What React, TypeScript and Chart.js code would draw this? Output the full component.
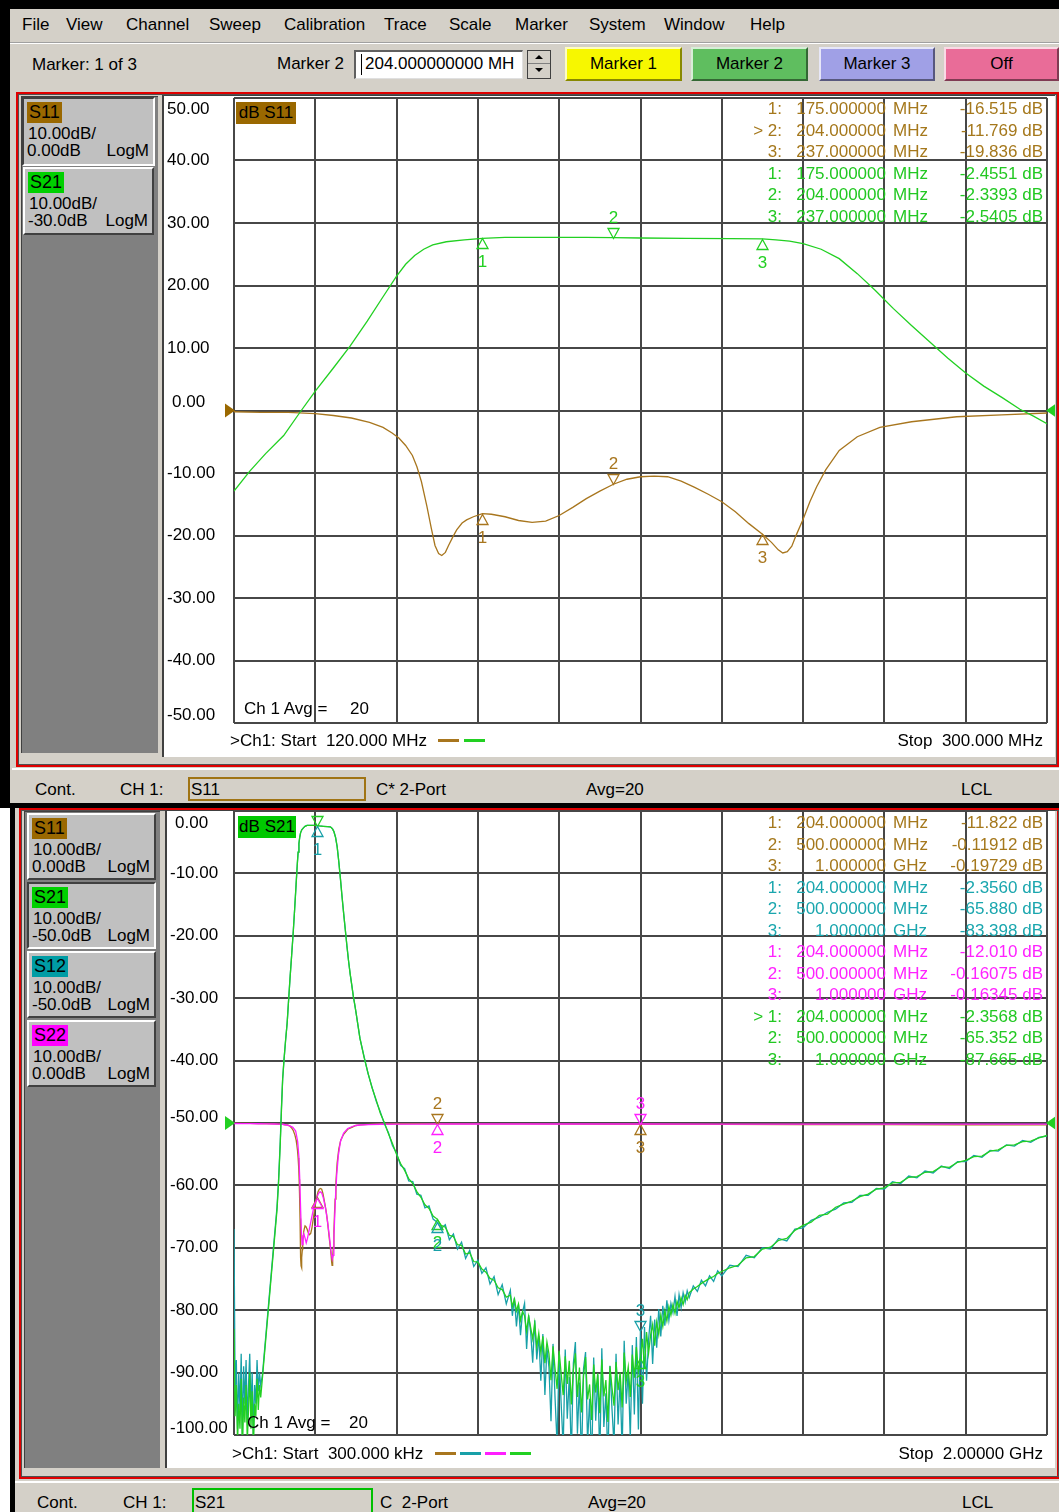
import React, { useEffect, useRef } from "react";
import { Chart, registerables } from "chart.js";

Chart.register(...registerables);

const FONT = '"Liberation Sans", Arial, Helvetica, sans-serif';
const UI = "#d4d0c8";
const GRID = "#474747";

const C_S11 = "#a8761e";
const C_S21 = "#22d022";
const C_S12 = "#18a0a8";
const C_S22 = "#ff1eff";
const T_S11 = "#a5781c";
const T_S21 = "#22c822";
const T_S12 = "#1aa6ae";
const T_S22 = "#ff22ff";
const BG_S11 = "#9a6800";
const BG_S21 = "#00d000";
const BG_S12 = "#009ca4";
const BG_S22 = "#ff00ff";

// ---------------- Top window: 120 MHz .. 300 MHz ----------------
const topXGrid = [120, 138, 156, 174, 192, 210, 228, 246, 264, 282, 300];
const topYTicks = [50, 40, 30, 20, 10, 0, -10, -20, -30, -40, -50];

const topS11Freq = [120, 126, 132, 138, 142, 146, 150, 153, 155, 156.5, 158, 159.5, 160.5, 161.5, 162.7, 163.7, 164.5, 165.3, 166.0, 166.8, 167.5, 168.4, 169.3, 170.5, 171.5, 173, 175, 177, 180, 183, 186, 189, 192, 195, 198, 201, 204, 207, 210, 213, 216, 219, 222, 225, 228, 231, 234, 237, 239, 240.5, 241.5, 242.5, 243.5, 244.5, 246, 247.5, 249, 251, 254, 258, 263, 270, 280, 290, 300];
const topS11 = [-0.2, -0.3, -0.3, -0.5, -0.8, -1.2, -1.9, -2.7, -3.6, -4.4, -5.6, -7.2, -9.0, -11.4, -15.3, -18.9, -21.6, -22.9, -23.2, -22.7, -21.6, -20.3, -19.1, -18.0, -17.5, -17.0, -16.5, -16.6, -17.0, -17.6, -17.9, -17.7, -16.8, -15.5, -14.1, -12.9, -11.8, -11.0, -10.6, -10.5, -10.6, -11.3, -12.3, -13.4, -14.6, -16.2, -18.1, -19.8, -21.1, -22.3, -22.8, -22.6, -21.7, -19.9, -17.4, -14.6, -12.2, -9.5, -6.4, -4.2, -2.7, -1.8, -1.0, -0.7, -0.4];

const topS21Freq = [120, 123.5, 127, 131, 134.5, 138, 142, 145.7, 149.5, 153, 156, 158, 160, 162, 164, 167, 171, 175, 180, 190, 198, 204, 210, 220, 230, 237, 240, 243, 246, 250, 254, 258, 262, 266, 270, 274, 278, 282, 286, 290, 294, 297, 300];
const topS21 = [-42.9, -39.7, -36.9, -34.0, -30.4, -26.9, -23.2, -19.7, -15.7, -11.8, -8.5, -6.6, -5.2, -4.2, -3.5, -3.0, -2.7, -2.45, -2.3, -2.3, -2.3, -2.34, -2.4, -2.45, -2.5, -2.54, -2.7, -2.9, -3.3, -4.2, -5.7, -8.1, -10.8, -13.7, -16.4, -19.0, -21.6, -24.0, -26.1, -27.9, -29.8, -30.9, -32.1];

const topMarkerFreq = [175, 204, 237];
const topS11Markers = [-16.515, -11.769, -19.836];
const topS21Markers = [-2.4551, -2.3393, -2.5405];

// ---------------- Bottom window: 300 kHz .. 2 GHz ----------------
const botXGrid = [0.3, 200.27, 400.24, 600.21, 800.18, 1000.15, 1200.12, 1400.09, 1600.06, 1800.03, 2000];
const botYTicks = [0, -10, -20, -30, -40, -50, -60, -70, -80, -90, -100];

const botLowFreq = [0.3, 3, 6, 9, 12, 15, 18, 21, 24, 27, 30, 33, 36, 39, 42, 45, 48, 51, 54, 57, 60, 63, 66, 70, 74, 78, 82, 86, 90, 94, 98, 102, 106, 110, 114, 117];
const botLowS21 = [-83, -97, -92, -101, -95, -99, -91, -103, -94, -98, -92, -101, -96, -90, -99, -93, -102, -95, -97, -91, -96, -92, -94, -91, -88, -85, -82, -79, -76, -73, -70, -67, -64, -59.5, -53.5, -48];
const botLowS12 = [-67, -93, -88, -99, -90, -96, -87, -100, -89, -95, -88, -98, -92, -87, -96, -90, -100, -92, -95, -88, -93, -90, -92, -90.5, -87.5, -84.5, -81.5, -78.5, -75.5, -72.5, -69.5, -66.5, -63.5, -59, -53, -47.5];

const botFreqA = [310, 320, 330, 340, 350, 360, 370, 380, 390, 400, 410, 420, 430, 440, 450, 460, 470, 480, 490, 500, 510, 520, 530, 540, 550, 560, 570, 580, 590];
const botS21A = [-36.4, -39.4, -42.0, -44.4, -46.3, -48.4, -49.9, -51.7, -53.3, -55.0, -56.5, -57.6, -58.9, -59.7, -61.0, -61.9, -63.1, -63.7, -64.9, -65.4, -66.4, -66.7, -68.0, -68.2, -69.5, -69.6, -71.0, -70.8, -72.2];
const botS12A = [-36.4, -39.3, -42.1, -44.3, -46.5, -48.2, -50.1, -51.5, -53.6, -54.8, -56.8, -57.3, -59.3, -59.4, -61.4, -61.6, -63.6, -63.3, -65.4, -65.9, -66.9, -66.3, -68.7, -67.8, -70.2, -69.1, -71.7, -70.4, -73.0];

const sweep = (a: number, b: number, step: number) => {
  const out: number[] = [];
  for (let f = a; f <= b + 1e-9; f += step) out.push(f);
  return out;
};
const botFreqB = [...sweep(600, 670, 10), ...sweep(680, 1120, 5), ...sweep(1130, 1200, 10)];
const botS21B = [
  -72.3, -73.4, -73.9, -74.9, -75.2, -76.4, -76.7, -77.9,
  -77.6, -79.4, -78.2, -80.1, -79.0, -81.6, -80.2, -80.9, -83.4, -81.0, -82.8, -84.6, -82.1, -85.9, -83.7, -86.8, -84.2, -88.5, -85.1, -87.0, -91.2, -85.8, -89.4, -92.6,
  -86.5, -90.2, -93.6, -87.4, -91.8, -88.1, -95.1, -89.6, -86.9, -93.9, -89.2, -96.4, -90.6, -87.5, -94.3, -91.9, -97.6, -88.7, -93.2, -90.1,
  -96.5, -87.9, -93.8, -91.2, -97.9, -89.0, -92.4, -95.3, -88.3, -92.8, -90.0, -95.6, -86.8, -91.4, -89.1, -93.9, -87.1, -90.8, -85.9, -89.9,
  -87.7, -84.6, -89.3, -83.5, -86.9, -84.0, -82.3, -85.7, -81.9, -83.9, -80.8, -82.6, -80.1, -81.7, -79.4, -80.8, -79.1, -80.5, -78.6, -79.6,
  -78.0, -79.1, -77.6, -78.3, -77.2,
  -76.6, -76.2, -75.7, -75.3, -74.9, -74.6, -74.1, -73.8,
];
const botS12B = [
  -72.0, -74.1, -73.2, -75.8, -74.6, -77.5, -75.9, -79.0,
  -76.8, -80.9, -78.0, -82.6, -79.1, -84.0, -80.3, -78.9, -86.2, -80.8, -83.5, -88.4, -81.6, -87.9, -84.1, -91.3, -83.8, -93.6, -86.0, -89.2, -97.8, -85.4, -94.1, -101.5,
  -87.2, -95.0, -102.0, -86.3, -97.4, -90.7, -103.5, -88.5, -85.1, -99.8, -91.6, -104.5, -89.4, -86.7, -101.3, -94.2, -105.0, -87.6, -97.7, -90.4,
  -103.9, -86.1, -98.7, -93.3, -104.2, -88.9, -95.8, -101.6, -87.0, -98.3, -90.9, -102.8, -84.9, -95.0, -89.7, -100.6, -85.6, -96.7, -84.3, -99.1,
  -83.4, -95.0, -82.7, -91.3, -84.8, -80.9, -88.6, -81.5, -86.0, -79.8, -84.2, -79.3, -82.5, -78.4, -81.6, -78.9, -80.4, -77.8, -80.9, -77.5,
  -79.6, -77.2, -78.7, -76.9, -78.0,
  -76.1, -77.0, -75.2, -76.1, -74.5, -75.4, -73.7, -74.5,
];

const botFreqC = sweep(1220, 2000, 20);
const botS21C = [-73.2, -72.8, -71.6, -71.4, -70.2, -69.9, -68.8, -68.5, -67.2, -66.4, -65.9, -64.8, -64.6, -63.5, -63.0, -62.5, -61.8, -61.4, -60.6, -60.4, -59.6, -59.5, -58.7, -58.6, -57.9, -57.8, -57.0, -57.1, -56.3, -56.0, -55.4, -55.3, -54.5, -54.3, -53.6, -53.5, -53.0, -52.9, -52.4, -52.0];
const botS12C = [-72.8, -73.0, -71.2, -71.6, -70.0, -70.2, -68.5, -68.9, -67.0, -66.8, -65.6, -65.1, -64.3, -63.8, -62.8, -62.7, -61.6, -61.6, -60.5, -60.6, -59.4, -59.7, -58.5, -58.8, -57.7, -58.0, -56.9, -57.3, -56.2, -56.2, -55.2, -55.5, -54.4, -54.5, -53.5, -53.7, -52.8, -53.1, -52.3, -52.1];

const botRefLowFreq = [0.3, 20, 40, 60, 80, 100, 110, 117];
const botLowS11 = [-0.05, -0.06, -0.07, -0.09, -0.11, -0.14, -0.17, -0.19];
const botLowS22 = [-0.08, -0.1, -0.11, -0.12, -0.14, -0.16, -0.18, -0.2];
const botRefHighFreq = [310, 330, 360, 400, 450, 500, 600, 700, 800, 1000, 1200, 1400, 1600, 1800, 2000];
const botHighS11 = [-0.3, -0.22, -0.16, -0.12, -0.11, -0.119, -0.13, -0.15, -0.17, -0.197, -0.22, -0.24, -0.26, -0.28, -0.3];
const botHighS22 = [-0.32, -0.25, -0.2, -0.17, -0.165, -0.161, -0.162, -0.162, -0.163, -0.163, -0.165, -0.17, -0.175, -0.18, -0.185];
const botS22MidFreq = [120, 135, 145, 152, 157, 160, 162, 164, 166, 168, 170, 172, 175, 178, 181, 185, 190, 195, 200, 204, 208, 212, 216, 220, 225, 230, 235, 239, 242, 244, 246, 248, 250, 253, 257, 262, 270, 280, 290, 300];
const botS22Mid = [-0.2, -0.4, -0.7, -1.3, -3.0, -5.5, -9.0, -13.5, -17.5, -19.5, -18.6, -17.8, -18.4, -19.2, -18.5, -17.2, -15.6, -14.0, -12.8, -12.0, -11.3, -11.0, -11.2, -12.0, -13.5, -15.6, -18.2, -20.6, -21.8, -21.2, -18.5, -15.0, -11.8, -8.2, -5.2, -3.0, -1.6, -0.9, -0.6, -0.4];

const botMarkerFreq = [204, 500, 1000];
const botS11Markers = [-11.822, -0.11912, -0.19729];
const botS12Markers = [-2.356, -65.88, -83.398];
const botS22Markers = [-12.01, -0.16075, -0.16345];
const botS21Markers = [-2.3568, -65.352, -87.665];

// ---------------- helpers ----------------
type Pt = { x: number; y: number };
const zip = (f: number[], v: number[], shift: number): Pt[] => f.map((x, i) => ({ x, y: v[i] + shift }));

function lineDS(label: string, data: Pt[], color: string, order: number) {
  return {
    label, data, borderColor: color, backgroundColor: color, borderWidth: 1.3,
    pointRadius: 0, pointHoverRadius: 0, fill: false, tension: 0, order,
  };
}

type MarkerSet = { color: string; freq: number[]; val: number[]; shift: number; dirs: string[]; labels: boolean[] };
type OverlayCfg = {
  yTicks: number[]; labelX: number; topOff: number; botOff: number; refValue: number; refOff: number;
  arrows: { value: number; side: string; color: string }[];
  markers: MarkerSet[];
};

function overlayPlugin(cfg: OverlayCfg) {
  return {
    id: "vnaOverlay",
    afterDraw(chart: any) {
      const { ctx, chartArea } = chart;
      const xs = chart.scales.x;
      const ys = chart.scales.y;
      ctx.save();
      ctx.font = `17px ${FONT}`;
      ctx.textBaseline = "middle";
      ctx.textAlign = "left";
      ctx.fillStyle = "#000";
      cfg.yTicks.forEach((v, i) => {
        let y = ys.getPixelForValue(v);
        if (i === 0) y += cfg.topOff;
        else if (i === cfg.yTicks.length - 1) y += cfg.botOff;
        else if (v === cfg.refValue) y += cfg.refOff;
        ctx.fillText(v.toFixed(2), cfg.labelX + (v === 0 ? 5 : 0), y);
      });
      cfg.arrows.forEach((a) => {
        const y = ys.getPixelForValue(a.value);
        ctx.fillStyle = a.color;
        ctx.beginPath();
        if (a.side === "left") {
          const x = chartArea.left + 1;
          ctx.moveTo(x, y); ctx.lineTo(x - 10, y - 7); ctx.lineTo(x - 10, y + 7);
        } else {
          const x = chartArea.right - 1;
          ctx.moveTo(x, y); ctx.lineTo(x + 10, y - 7); ctx.lineTo(x + 10, y + 7);
        }
        ctx.closePath();
        ctx.fill();
      });
      ctx.textAlign = "center";
      ctx.lineWidth = 1.3;
      cfg.markers.forEach((m) => {
        m.freq.forEach((f, i) => {
          const px = Math.round(xs.getPixelForValue(f)) + 0.5;
          const py = Math.round(ys.getPixelForValue(m.val[i] + m.shift)) + 0.5;
          const up = m.dirs[i] === "up";
          const base = up ? py + 10 : py - 10;
          ctx.strokeStyle = m.color;
          ctx.beginPath();
          ctx.moveTo(px, py); ctx.lineTo(px - 5.5, base); ctx.lineTo(px + 5.5, base); ctx.closePath();
          ctx.stroke();
          if (m.labels[i]) {
            ctx.fillStyle = m.color;
            ctx.fillText(String(i + 1), px, up ? py + 24 : py - 20);
          }
        });
      });
      ctx.restore();
    },
  };
}

function makeConfig(datasets: any[], xMin: number, xMax: number, xGrid: number[], yMin: number, yMax: number, yGrid: number[], padding: any, plugin: any) {
  const grid = { color: GRID, lineWidth: 2, drawTicks: false };
  return {
    type: "line",
    data: { datasets },
    options: {
      responsive: false,
      animation: false,
      events: [],
      layout: { autoPadding: false, padding },
      plugins: { legend: { display: false }, tooltip: { enabled: false }, title: { display: false } },
      scales: {
        x: {
          type: "linear", min: xMin, max: xMax,
          afterBuildTicks: (a: any) => { a.ticks = xGrid.map((v) => ({ value: v })); },
          ticks: { display: false }, grid, border: { display: false },
        },
        y: {
          type: "linear", min: yMin, max: yMax,
          afterBuildTicks: (a: any) => { a.ticks = yGrid.map((v) => ({ value: v })); },
          ticks: { display: false }, grid, border: { display: false },
        },
      },
    },
    plugins: [plugin],
  } as any;
}

const fmtFreq = (f: number) => (f >= 1000 ? (f / 1000).toFixed(6) : f.toFixed(6));
const fmtUnit = (f: number) => (f >= 1000 ? "GHz" : "MHz");
const fmtVal = (v: number) => v.toPrecision(5) + " dB";

// ---------------- UI pieces ----------------
const T = (p: { x: number; y: number; children: any; color?: string; right?: boolean; size?: number }) => (
  <div
    style={{
      position: "absolute", top: p.y - 11, height: 22, lineHeight: "22px", fontSize: p.size || 17,
      color: p.color || "#000", whiteSpace: "pre",
      ...(p.right ? { right: 1059 - p.x, textAlign: "right" as const } : { left: p.x }),
    }}
  >
    {p.children}
  </div>
);

function Readout(p: { ys: number[]; color: string; freq: number[]; val: number[]; active: number }) {
  return (
    <>
      {p.freq.map((f, i) => (
        <React.Fragment key={i}>
          <T x={782} y={p.ys[i]} right color={p.color}>{(i === p.active ? "> " : "") + (i + 1) + ":"}</T>
          <T x={886} y={p.ys[i]} right color={p.color}>{fmtFreq(f)}</T>
          <T x={893} y={p.ys[i]} color={p.color}>{fmtUnit(f)}</T>
          <T x={1043} y={p.ys[i]} right color={p.color}>{fmtVal(p.val[i])}</T>
        </React.Fragment>
      ))}
    </>
  );
}

function TraceBtn(p: { left: number; top: number; width: number; height: number; name: string; bg: string; scale: string; refv: string; active?: boolean }) {
  const hi = "2px solid #ffffff";
  const lo = "2px solid #404040";
  return (
    <div
      style={{
        position: "absolute", left: p.left, top: p.top, width: p.width, height: p.height, boxSizing: "border-box",
        background: "#c0c0c0", borderTop: p.active ? lo : hi, borderLeft: p.active ? lo : hi,
        borderBottom: p.active ? hi : lo, borderRight: p.active ? hi : lo, fontSize: 17,
      }}
    >
      <div style={{ position: "absolute", left: 3, top: 3, height: 21, lineHeight: "21px", padding: "0 2px", background: p.bg, fontSize: 18 }}>{p.name}</div>
      <div style={{ position: "absolute", left: 4, top: 25, lineHeight: "20px", whiteSpace: "pre" }}>{p.scale}</div>
      <div style={{ position: "absolute", left: 3, top: 42, lineHeight: "20px", whiteSpace: "pre" }}>{p.refv}</div>
      <div style={{ position: "absolute", right: 4, top: 42, lineHeight: "20px" }}>LogM</div>
    </div>
  );
}

function Btn(p: { left: number; width: number; bg: string; label: string }) {
  return (
    <div
      style={{
        position: "absolute", left: p.left, top: 47, width: p.width, height: 34, boxSizing: "border-box", background: p.bg,
        borderTop: "2px solid rgba(255,255,255,0.75)", borderLeft: "2px solid rgba(255,255,255,0.75)",
        borderBottom: "2px solid rgba(0,0,0,0.45)", borderRight: "2px solid rgba(0,0,0,0.45)",
        textAlign: "center", lineHeight: "30px", fontSize: 17,
      }}
    >
      {p.label}
    </div>
  );
}

const box = (left: number, top: number, width: number, height: number, style: any = {}) => (
  <div style={{ position: "absolute", left, top, width, height, boxSizing: "border-box", ...style }} />
);

export default function App() {
  const topRef = useRef<HTMLCanvasElement>(null);
  const botRef = useRef<HTMLCanvasElement>(null);

  useEffect(() => {
    const topDatasets = [
      lineDS("S21", zip(topS21Freq, topS21, 30), C_S21, 0),
      lineDS("S11", zip(topS11Freq, topS11, 0), C_S11, 1),
    ];
    const topPlugin = overlayPlugin({
      yTicks: topYTicks, labelX: 4, topOff: 11, botOff: -8, refValue: 0, refOff: -8,
      arrows: [{ value: 0, side: "left", color: BG_S11 }, { value: 0, side: "right", color: C_S21 }],
      markers: [
        { color: C_S11, freq: topMarkerFreq, val: topS11Markers, shift: 0, dirs: ["up", "down", "up"], labels: [true, true, true] },
        { color: C_S21, freq: topMarkerFreq, val: topS21Markers, shift: 30, dirs: ["up", "down", "up"], labels: [true, true, true] },
      ],
    });
    const c1 = new Chart(
      topRef.current as HTMLCanvasElement,
      makeConfig(topDatasets, 120, 300, topXGrid, -50, 50, topYTicks, { left: 71, top: 2, right: 8, bottom: 34 }, topPlugin)
    );

    const s21 = [
      ...zip(botLowFreq, botLowS21, 0), ...zip(topS21Freq, topS21, 0), ...zip(botFreqA, botS21A, 0),
      ...zip(botFreqB, botS21B, 0), ...zip(botFreqC, botS21C, 0),
    ];
    const s12 = [
      ...zip(botLowFreq, botLowS12, 0), ...zip(topS21Freq, topS21, 0), ...zip(botFreqA, botS12A, 0),
      ...zip(botFreqB, botS12B, 0), ...zip(botFreqC, botS12C, 0),
    ];
    const s22 = [...zip(botRefLowFreq, botLowS22, -50), ...zip(botS22MidFreq, botS22Mid, -50), ...zip(botRefHighFreq, botHighS22, -50)];
    const s11 = [...zip(botRefLowFreq, botLowS11, -50), ...zip(topS11Freq, topS11, -50), ...zip(botRefHighFreq, botHighS11, -50)];
    const botDatasets = [
      lineDS("S21", s21, C_S21, 0),
      lineDS("S12", s12, C_S12, 1),
      lineDS("S22", s22, C_S22, 2),
      lineDS("S11", s11, C_S11, 3),
    ];
    const botPlugin = overlayPlugin({
      yTicks: botYTicks, labelX: 4, topOff: 12, botOff: -7, refValue: -50, refOff: -6,
      arrows: [{ value: -50, side: "left", color: C_S21 }, { value: -50, side: "right", color: C_S21 }],
      markers: [
        { color: C_S11, freq: botMarkerFreq, val: botS11Markers, shift: -50, dirs: ["up", "down", "up"], labels: [false, true, true] },
        { color: C_S22, freq: botMarkerFreq, val: botS22Markers, shift: -50, dirs: ["up", "up", "down"], labels: [true, true, true] },
        { color: C_S21, freq: botMarkerFreq, val: botS21Markers, shift: 0, dirs: ["down", "up", "up"], labels: [false, true, true] },
        { color: C_S12, freq: botMarkerFreq, val: botS12Markers, shift: 0, dirs: ["up", "up", "down"], labels: [true, true, true] },
      ],
    });
    const c2 = new Chart(
      botRef.current as HTMLCanvasElement,
      makeConfig(botDatasets, 0.3, 2000, botXGrid, -100, 0, botYTicks, { left: 68, top: 2, right: 8, bottom: 32 }, botPlugin)
    );
    return () => {
      c1.destroy();
      c2.destroy();
    };
  }, []);

  const menu: [string, number][] = [
    ["File", 22], ["View", 66], ["Channel", 126], ["Sweep", 209], ["Calibration", 284], ["Trace", 384],
    ["Scale", 449], ["Marker", 515], ["System", 589], ["Window", 664], ["Help", 750],
  ];

  return (
    <div style={{ position: "absolute", left: 0, top: 0, width: 1059, height: 1512, overflow: "hidden", background: UI, fontFamily: FONT, fontSize: 17, color: "#000" }}>
      {/* ===== top window frame ===== */}
      {box(0, 0, 1059, 808, { background: "#000" })}
      {box(10, 9, 1049, 34, { background: UI, borderBottom: "1px solid #a0a0a0" })}
      {box(10, 43, 1049, 1, { background: "#ffffff" })}
      {menu.map(([m, x]) => (
        <T key={m} x={x} y={25}>{m}</T>
      ))}
      {box(10, 44, 1049, 42, { background: UI })}
      <T x={32} y={65}>Marker: 1 of 3</T>
      <T x={277} y={64}>Marker 2</T>
      {box(354, 50, 169, 29, { background: "#fff", borderTop: "2px solid #606060", borderLeft: "2px solid #606060", borderBottom: "1px solid #e0e0e0", borderRight: "1px solid #e0e0e0" })}
      {box(361, 54, 1, 21, { background: "#000" })}
      <T x={365} y={64}>204.000000000 MH</T>
      {box(527, 50, 24, 29, { background: UI, border: "1px solid #404040" })}
      {box(528, 51, 22, 13, { borderBottom: "1px solid #808080" })}
      <div style={{ position: "absolute", left: 535, top: 55, width: 0, height: 0, borderLeft: "4px solid transparent", borderRight: "4px solid transparent", borderBottom: "4px solid #000" }} />
      <div style={{ position: "absolute", left: 535, top: 68, width: 0, height: 0, borderLeft: "4px solid transparent", borderRight: "4px solid transparent", borderTop: "4px solid #000" }} />
      <Btn left={565} width={117} bg="#f7f700" label="Marker 1" />
      <Btn left={691} width={117} bg="#5fbe5f" label="Marker 2" />
      <Btn left={819} width={116} bg="#a0a0e6" label="Marker 3" />
      <Btn left={944} width={115} bg="#e96c98" label="Off" />

      {box(10, 86, 1049, 717, { background: UI })}
      {box(16, 92, 1043, 675, { border: "2px solid #e00000" })}
      {box(18, 94, 1039, 671, { border: "1px solid #505050" })}
      {box(21, 96, 137, 657, { background: "#808080", borderTop: "1px solid #404040", borderLeft: "1px solid #404040" })}
      <TraceBtn left={22} top={97} width={133} height={69} name="S11" bg={BG_S11} scale="10.00dB/" refv="0.00dB" active />
      <TraceBtn left={23} top={167} width={131} height={68} name="S21" bg={BG_S21} scale="10.00dB/" refv="-30.0dB" />
      {box(162, 95, 893, 662, { background: "#fff", borderLeft: "2px solid #404040", borderTop: "1px solid #404040" })}
      <canvas ref={topRef} width={892} height={661} style={{ position: "absolute", left: 163, top: 96, width: 892, height: 661, display: "block" }} />
      <div style={{ position: "absolute", left: 236, top: 102, width: 60, height: 22, lineHeight: "22px", background: BG_S11, textAlign: "center", fontSize: 17 }}>dB S11</div>
      <Readout ys={[109, 130.5, 152]} color={T_S11} freq={topMarkerFreq} val={topS11Markers} active={1} />
      <Readout ys={[173.5, 195, 216.5]} color={T_S21} freq={topMarkerFreq} val={topS21Markers} active={-1} />
      <T x={244} y={709}>Ch 1 Avg =</T>
      <T x={350} y={709}>20</T>
      <T x={230} y={741}>{">Ch1: Start  120.000 MHz"}</T>
      {box(438, 739, 21, 3, { background: C_S11 })}
      {box(464, 739, 21, 3, { background: C_S21 })}
      <T x={1043} y={741} right>Stop  300.000 MHz</T>

      {/* top status bar */}
      {box(12, 768, 1047, 35, { background: UI, borderTop: "2px solid #ffffff" })}
      <T x={35} y={790}>Cont.</T>
      <T x={120} y={790}>CH 1:</T>
      {box(188, 777, 178, 24, { border: "2px solid #a07414" })}
      <T x={191} y={790}>S11</T>
      <T x={376} y={790}>C* 2-Port</T>
      <T x={586} y={790}>Avg=20</T>
      <T x={961} y={790}>LCL</T>

      {/* ===== bottom window ===== */}
      {box(0, 808, 10, 704, { background: "#ffffff" })}
      {box(10, 808, 5, 704, { background: "#000" })}
      {box(15, 808, 1044, 704, { background: UI })}
      {box(19, 808, 1040, 671, { border: "2px solid #e00000" })}
      {box(21, 810, 1038, 667, { border: "1px solid #505050" })}
      {box(24, 811, 136, 657, { background: "#808080", borderTop: "1px solid #404040", borderLeft: "1px solid #404040" })}
      <TraceBtn left={27} top={813} width={129} height={67} name="S11" bg={BG_S11} scale="10.00dB/" refv="0.00dB" />
      <TraceBtn left={27} top={882} width={129} height={67} name="S21" bg={BG_S21} scale="10.00dB/" refv="-50.0dB" active />
      <TraceBtn left={27} top={951} width={129} height={67} name="S12" bg={BG_S12} scale="10.00dB/" refv="-50.0dB" />
      <TraceBtn left={27} top={1020} width={129} height={67} name="S22" bg={BG_S22} scale="10.00dB/" refv="0.00dB" />
      {box(165, 810, 890, 658, { background: "#fff", borderLeft: "2px solid #404040", borderTop: "1px solid #404040" })}
      <canvas ref={botRef} width={889} height={658} style={{ position: "absolute", left: 166, top: 809, width: 889, height: 658, display: "block" }} />
      <div style={{ position: "absolute", left: 238, top: 816, width: 58, height: 22, lineHeight: "22px", background: "#00c800", textAlign: "center", fontSize: 17 }}>dB S21</div>
      <Readout ys={[823, 844.5, 866]} color={T_S11} freq={botMarkerFreq} val={botS11Markers} active={-1} />
      <Readout ys={[887.5, 909, 930.5]} color={T_S12} freq={botMarkerFreq} val={botS12Markers} active={-1} />
      <Readout ys={[952, 973.5, 995]} color={T_S22} freq={botMarkerFreq} val={botS22Markers} active={-1} />
      <Readout ys={[1016.5, 1038, 1059.5]} color={T_S21} freq={botMarkerFreq} val={botS21Markers} active={0} />
      <T x={247} y={1423}>Ch 1 Avg =</T>
      <T x={349} y={1423}>20</T>
      <T x={232} y={1454}>{">Ch1: Start  300.000 kHz"}</T>
      {box(435, 1452, 21, 3, { background: C_S11 })}
      {box(460, 1452, 21, 3, { background: C_S12 })}
      {box(485, 1452, 21, 3, { background: C_S22 })}
      {box(510, 1452, 21, 3, { background: C_S21 })}
      <T x={1043} y={1454} right>Stop  2.00000 GHz</T>

      {/* bottom status bar */}
      {box(15, 1481, 1044, 31, { background: UI, borderTop: "2px solid #ffffff" })}
      <T x={37} y={1503}>Cont.</T>
      <T x={123} y={1503}>CH 1:</T>
      {box(192, 1488, 181, 30, { border: "2px solid #00c000" })}
      <T x={195} y={1503}>S21</T>
      <T x={380} y={1503}>C  2-Port</T>
      <T x={588} y={1503}>Avg=20</T>
      <T x={962} y={1503}>LCL</T>
    </div>
  );
}
